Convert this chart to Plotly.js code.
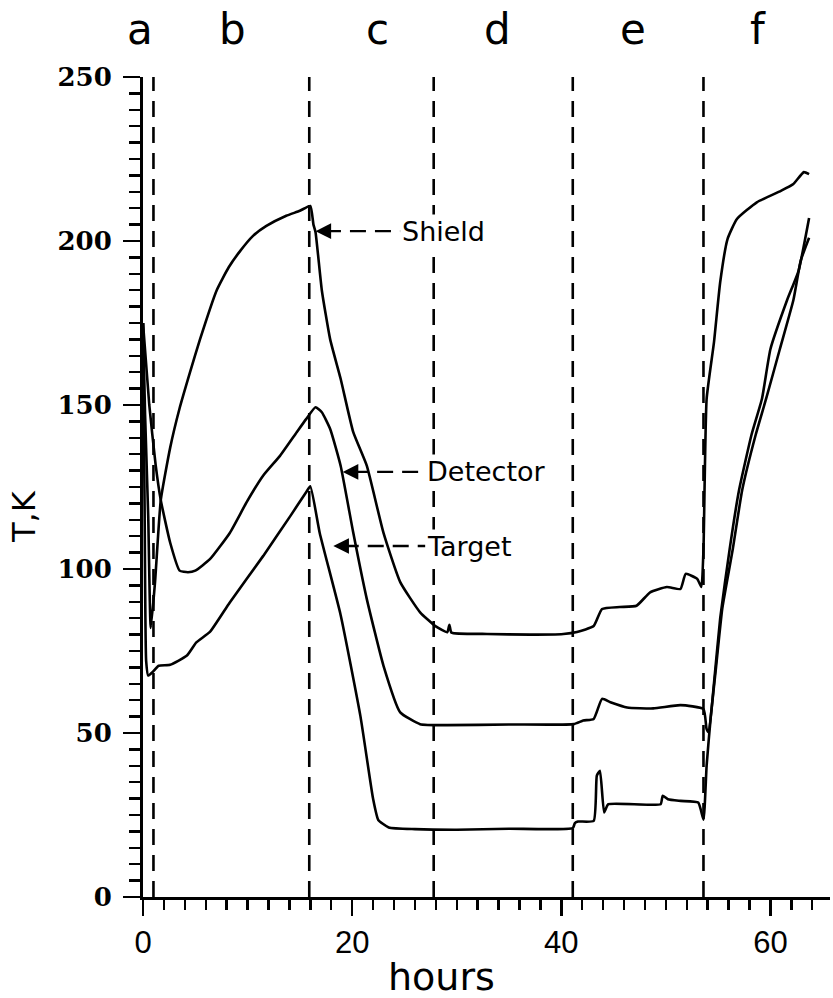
<!DOCTYPE html>
<html>
<head>
<meta charset="utf-8">
<script src="https://cdn.plot.ly/plotly-3.0.1.min.js"></script>
<style>html,body{margin:0;padding:0;background:#fff;}#chart{width:833px;height:998px;}</style>
</head>
<body>
<div id="chart"></div>
<script>
// ---- data (hours, K) ----
var shieldHours = [0,0.2,0.5,0.74,1.15,1.7,2.6,3.5,4.5,5.45,7.05,8.2,9.3,10.5,11.8,13.7,15.0,16.0,16.3,16.5,17.1,17.9,18.9,20.1,21.4,23.0,24.6,26.5,28.0,29.1,29.3,29.5,32.9,37,40.2,41.5,43.1,43.9,45.6,47.2,48.5,50.1,51.4,51.9,53.0,53.4,53.6,53.9,54.6,55.2,55.9,56.8,58.7,61.0,62.2,63.2,63.7];
var shieldT     = [175,147,116,82,96,121,137,149,160,170,185,192,197,201.5,204.6,207.7,209.2,210.7,205,202.7,185,170,158,141.8,131.5,111,96,86.8,82.5,80.7,83,80.6,80.2,80,80.2,80.8,82.6,87.8,88.4,88.8,92.9,94.5,93.9,98.5,97,94.5,106,151.8,169,187.5,200.6,206.7,211.8,215.3,217.4,221,220.4];

var detectorHours = [0,0.6,1.2,1.7,2.6,3.5,4.3,5,6.4,8.3,9.9,11.5,13.1,14.7,15.6,16.5,17.1,17.9,18.9,20.1,21.4,23.0,24.6,26.5,29.1,35,41.2,42.1,43.1,43.9,44.7,46.3,48.8,51.4,53.6,53.9,54.1,54.6,55.2,56.1,57.0,58.2,59.2,60.0,61.6,62.7,63.7];
var detectorT     = [175,150,132,121,108,99.5,99,99.5,103,111,120.3,128.5,134.5,141.7,145.7,149.3,147.8,142.7,131.5,111.2,90.9,70.5,56.3,52.7,52.4,52.6,52.7,53.8,54.3,60.4,59.4,57.8,57.5,58.5,57.3,51.2,50.2,65,85,106,124,141,152,167,182,191,207];

var targetHours = [0,0.15,0.3,0.5,0.9,1.5,2.6,4.2,5.1,6.4,8.3,11.5,14.1,15.6,16.0,16.9,18.9,20.8,22.0,22.5,23.5,26,30,35,41.1,41.3,41.6,43.1,43.4,43.7,44.1,44.5,49.5,49.7,50.2,51.4,53.1,53.6,53.9,54.3,54.8,55.4,56.4,57.3,58.6,59.6,60.9,62.2,62.9,63.7];
var targetT     = [175,120,72,67.5,68.5,70.5,70.8,73.6,77.6,80.8,89.8,104,116.2,123.4,125.2,111,86,55,30,23.5,21.2,20.7,20.5,20.8,21,22.5,23,23.2,37,38.5,25.8,28.3,28.3,30.9,29.8,29.3,28.8,23.6,40,55,70,88,106,124,141,152,167,182,194,201];

var boundaryHours = [1.0, 15.9, 27.8, 41.1, 53.6];
var regionLabels  = ['a','b','c','d','e','f'];
var regionHours   = [-0.3, 8.6, 22.4, 33.9, 46.9, 58.8];

var curveNames  = ['Shield','Detector','Target'];
var pointHours  = [16.5, 19.1, 18.2];   // where each leader touches its curve
var pointT      = [203, 129.6, 107];
var textHours   = [24.6, 27.0, 27.0];

var xTicks = [0,20,40,60];
var yTicks = [0,50,100,150,200,250];

// ---- build figure ----
var X_MAX = 65.7;
var lineStyle = {color:'#000', width:2.6, shape:'spline', smoothing:0.45};
var traces = [
  {x:shieldHours, y:shieldT, mode:'lines', line:lineStyle, name:'Shield'},
  {x:detectorHours, y:detectorT, mode:'lines', line:lineStyle, name:'Detector'},
  {x:targetHours, y:targetT, mode:'lines', line:lineStyle, name:'Target'}
];

var shapes = boundaryHours.map(function(h){
  return {type:'line', xref:'x', yref:'y', x0:h, x1:h, y0:0, y1:250,
          line:{color:'#000', width:2.6, dash:'16px,10px'}};
});

var annotations = [];
regionLabels.forEach(function(l, i){
  annotations.push({x:regionHours[i]/X_MAX, y:1.058, xref:'paper', yref:'paper', text:l, showarrow:false,
    xanchor:'center', yanchor:'middle', font:{family:'DejaVu Sans', size:42, color:'#000'}});
});
curveNames.forEach(function(n, i){
  shapes.push({type:'line', xref:'x', yref:'y', x0:pointHours[i]+0.9, x1:textHours[i], y0:pointT[i], y1:pointT[i],
    line:{color:'#000', width:2.4, dash:'16px,9px'}});
  annotations.push({x:pointHours[i], y:pointT[i], xref:'x', yref:'y', ax:pointHours[i]+1.2, ay:pointT[i],
    axref:'x', ayref:'y', text:'', showarrow:true, arrowhead:2, arrowsize:1.3, arrowwidth:2.4, arrowcolor:'#000', standoff:0});
  annotations.push({x:textHours[i], y:pointT[i], xref:'x', yref:'y', text:n, showarrow:false,
    xanchor:'left', yanchor:'middle', bgcolor:'#fff', borderpad:1,
    font:{family:'DejaVu Sans', size:27, color:'#000'}});
});
annotations.push({x:-0.174, y:116, xref:'paper', yref:'y', text:'T,K', textangle:-90, showarrow:false,
  xanchor:'center', yanchor:'middle', font:{family:'DejaVu Sans', size:32, color:'#000'}});
annotations.push({x:0.434, y:-0.098, xref:'paper', yref:'paper', text:'hours', showarrow:false,
  xanchor:'center', yanchor:'middle', font:{family:'DejaVu Sans', size:38, color:'#000'}});

var layout = {
  width:833, height:998,
  margin:{l:143, r:3, t:77, b:101, pad:0},
  paper_bgcolor:'#fff', plot_bgcolor:'#fff',
  showlegend:false,
  xaxis:{range:[0,X_MAX], tickvals:xTicks, ticktext:xTicks.map(String), ticks:'outside', ticklen:16, tickwidth:2.6, tickcolor:'#000',
    minor:{dtick:2, tick0:0, ticks:'outside', ticklen:10, tickwidth:2.4, tickcolor:'#000'},
    showline:true, linewidth:3, linecolor:'#000', showgrid:false, zeroline:false,
    tickfont:{family:'Liberation Sans', size:31, color:'#000'}, ticklabelstandoff:0},
  yaxis:{range:[0,250], tickvals:yTicks, ticktext:yTicks.map(String), ticks:'outside', ticklen:17, tickwidth:2.6, tickcolor:'#000',
    minor:{dtick:5, tick0:0, ticks:'outside', ticklen:11, tickwidth:2.4, tickcolor:'#000'},
    showline:true, linewidth:3, linecolor:'#000', showgrid:false, zeroline:false,
    tickfont:{family:'DejaVu Serif', size:26, color:'#000', weight:'bold'}, ticklabelstandoff:6},
  shapes:shapes,
  annotations:annotations
};

Plotly.newPlot('chart', traces, layout, {staticPlot:true, displayModeBar:false});
</script>
</body>
</html>
